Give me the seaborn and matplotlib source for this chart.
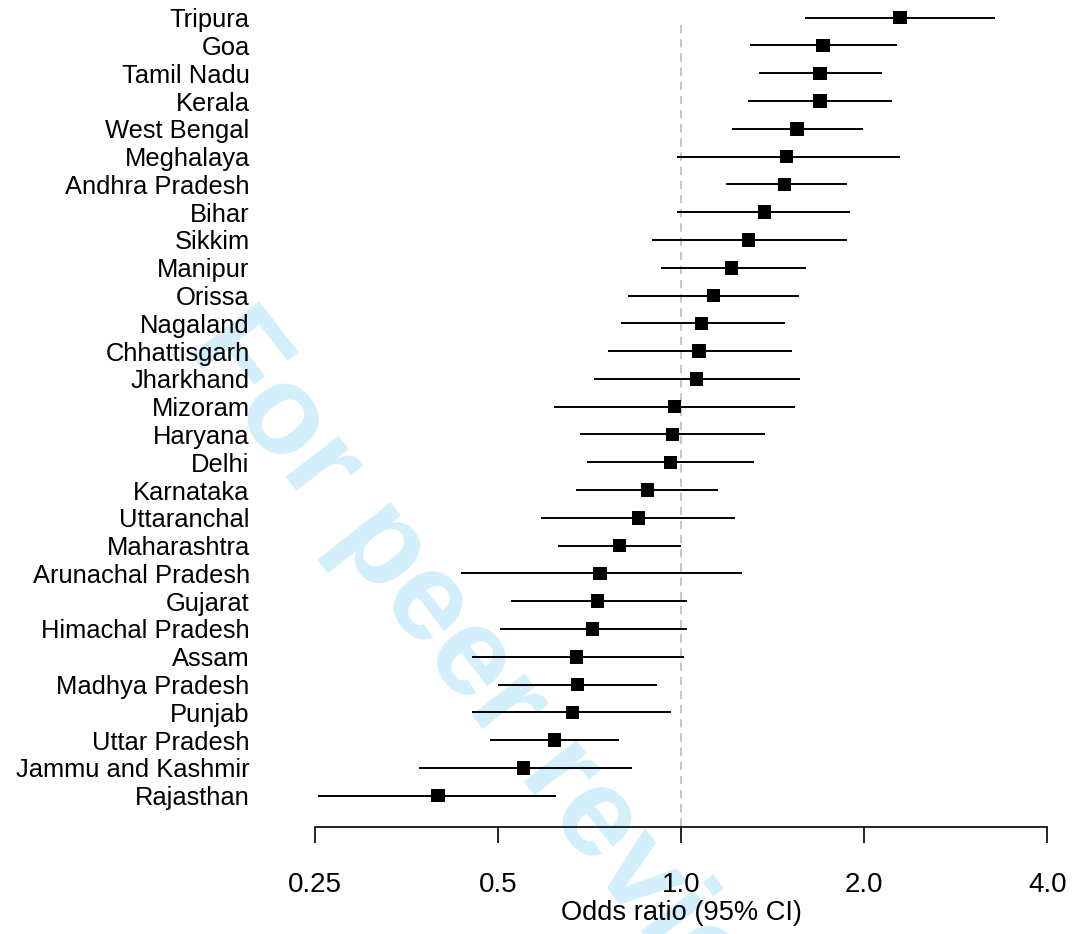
import numpy as np
import pandas as pd
import matplotlib
matplotlib.use('Agg')
import matplotlib.pyplot as plt
import seaborn as sns

# Odds ratios par etat
states = ['Tripura', 'Goa', 'Tamil Nadu', 'Kerala', 'West Bengal', 'Meghalaya',
          'Andhra Pradesh', 'Bihar', 'Sikkim', 'Manipur', 'Orissa', 'Nagaland',
          'Chhattisgarh', 'Jharkhand', 'Mizoram', 'Haryana', 'Delhi', 'Karnataka',
          'Uttaranchal', 'Maharashtra', 'Arunachal Pradesh', 'Gujarat',
          'Himachal Pradesh', 'Assam', 'Madhya Pradesh', 'Punjab', 'Uttar Pradesh',
          'Jammu and Kashmir', 'Rajasthan']
odds = [2.29, 1.71, 1.69, 1.69, 1.55, 1.49, 1.48, 1.37, 1.29, 1.21, 1.13, 1.08,
        1.07, 1.06, 0.975, 0.968, 0.961, 0.881, 0.851, 0.792, 0.735, 0.729,
        0.715, 0.673, 0.676, 0.663, 0.619, 0.551, 0.398]
ci_low = [1.60, 1.30, 1.345, 1.29, 1.214, 0.983, 1.183, 0.986, 0.894, 0.925,
          0.817, 0.795, 0.757, 0.718, 0.619, 0.681, 0.699, 0.671, 0.588, 0.627,
          0.434, 0.525, 0.504, 0.453, 0.50, 0.453, 0.485, 0.370, 0.253]
ci_high = [3.28, 2.26, 2.14, 2.22, 1.99, 2.29, 1.876, 1.897, 1.876, 1.607,
           1.565, 1.479, 1.524, 1.571, 1.541, 1.376, 1.320, 1.148, 1.228, 1.0,
           1.257, 1.021, 1.021, 1.009, 0.911, 0.961, 0.789, 0.829, 0.622]
xticks = [0.25, 0.5, 1.0, 2.0, 4.0]
xtick_labels = ['0.25', '0.5', '1.0', '2.0', '4.0']

df = pd.DataFrame({'state': states, 'odds': odds, 'lo': ci_low, 'hi': ci_high})
df['pos'] = np.arange(len(df))

sns.set_theme(style='white')
plt.rcParams['font.family'] = ['Liberation Sans', 'DejaVu Sans']

fig = plt.figure(figsize=(10.72, 9.34), dpi=100)
ax = fig.add_axes([315 / 1072, (934 - 827.3) / 934, (1047.3 - 315) / 1072, 827.3 / 934])
ax.set_facecolor('none')

# filigrane
fig.text(498 / 1072, 1 - 696 / 934, 'For peer review', rotation=-52,
         rotation_mode='anchor', ha='center', va='center', fontsize=91,
         fontweight='bold', color='#d3effb', zorder=-5)

# ligne de reference OR = 1
ax.vlines(1.0, 0.26, 29.14, colors='#bbbbbb', linestyles=(0, (5, 3.5)),
          linewidth=1.2, zorder=1)

# intervalles de confiance
ax.hlines(df['pos'], df['lo'], df['hi'], colors='black', linewidth=1.4,
          zorder=2, clip_on=False)

sns.scatterplot(data=df, x='odds', y='pos', marker='s', s=95, color='black',
                edgecolor='none', linewidth=0, zorder=3, ax=ax, clip_on=False)

ax.set_xscale('log')
ax.set_xlim(0.25, 4.0)
ax.set_ylim(29.137, -0.637)
ax.set_xticks(xticks)
ax.set_xticklabels(xtick_labels)
ax.minorticks_off()
ax.set_yticks(df['pos'])
ax.set_yticklabels(df['state'])

for side in ['top', 'right', 'left']:
    ax.spines[side].set_visible(False)
ax.spines['bottom'].set_color('black')
ax.spines['bottom'].set_linewidth(1.2)

ax.tick_params(axis='x', direction='out', length=11.5, width=1.2, color='black',
               pad=21, labelsize=20, labelcolor='black', bottom=True)
ax.tick_params(axis='y', length=0, pad=47, labelsize=18.4, labelcolor='black')

ax.set_xlabel('Odds ratio (95% CI)', fontsize=19.6, color='black', labelpad=1)
ax.set_ylabel('')
ax.grid(False)

fig.savefig('out.png', dpi=100)
